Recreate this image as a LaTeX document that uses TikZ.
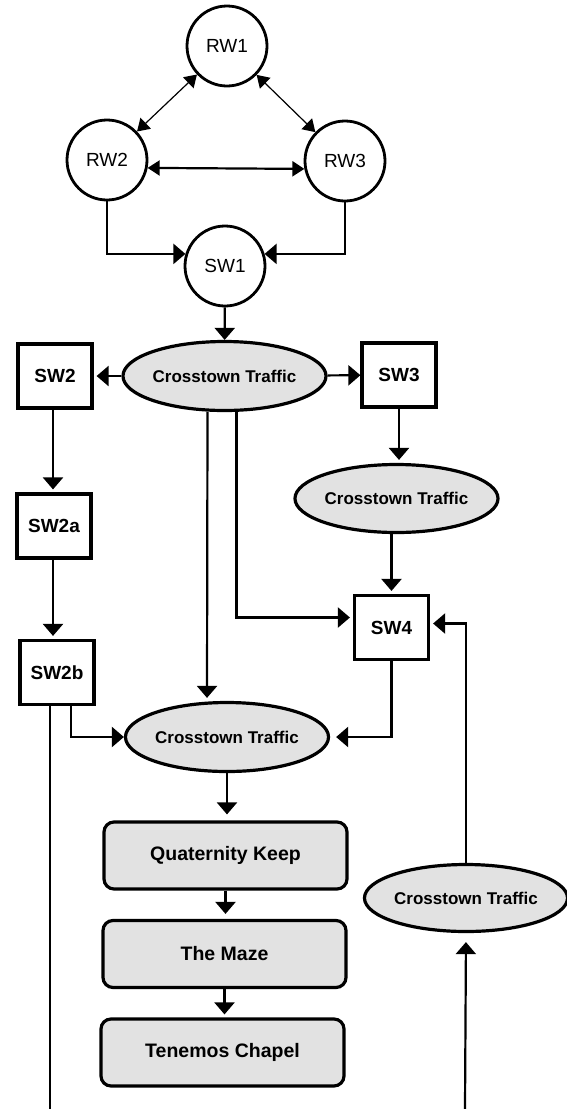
\documentclass[tikz,border=0pt]{standalone}
\usepackage{fontspec}
\setmainfont{Liberation Sans}
\usetikzlibrary{shapes.geometric,arrows.meta,calc}
\definecolor{cfill}{RGB}{226,226,226}
\begin{document}
\begin{tikzpicture}[x=1pt,y=-1pt,
  circ/.style={circle,draw,line width=2.8pt,minimum size=80pt,inner sep=0pt,font=\fontsize{19}{22}\selectfont},
  sbox/.style={rectangle,draw,line width=3.2pt,minimum width=74pt,minimum height=64pt,inner sep=0pt,font=\fontsize{19}{22}\selectfont\bfseries},
  ct/.style={ellipse,draw,fill=cfill,line width=3.2pt,inner sep=0pt,font=\fontsize{17}{20}\selectfont\bfseries},
  rbox/.style={rectangle,rounded corners=10pt,draw,fill=cfill,line width=3.2pt,minimum width=243pt,minimum height=67pt,inner sep=0pt,font=\fontsize{19.5}{22}\selectfont\bfseries},
  con/.style={line width=2.2pt,shorten >=3pt,-{Triangle[length=12pt,width=20pt]}},
  plainline/.style={line width=2.2pt},
  dblthin/.style={line width=1.2pt,{Triangle[length=12pt,width=15pt]}-{Triangle[length=12pt,width=15pt]}},
  dblthick/.style={line width=2.2pt,{Triangle[length=12pt,width=15pt]}-{Triangle[length=12pt,width=15pt]}},
]
\useasboundingbox (0,0) rectangle (566,1109);

\node[circ] (RW1) at (227,46) {RW1};
\node[circ] (RW2) at (107,160) {RW2};
\node[circ] (RW3) at (345,161) {RW3};
\node[circ] (SW1) at (225,266) {SW1};
\node[ct,minimum width=182pt,minimum height=69pt] (CT1) at (224.5,376) {Crosstown Traffic};
\node[sbox] (SW2) at (55,376) {SW2};
\node[sbox] (SW3) at (399,375) {SW3};
\node[ct,minimum width=188pt,minimum height=68pt] (CT2) at (396.5,498.5) {Crosstown Traffic};
\node[sbox] (SW2a) at (54,526) {SW2a};
\node[sbox] (SW2b) at (57,672.5) {SW2b};
\node[sbox] (SW4) at (391.5,627.5) {SW4};
\node[ct,minimum width=187pt,minimum height=69pt] (CT3) at (227,737) {Crosstown Traffic};
\node[rbox] (QK) at (225.5,855.5) {Quaternity Keep};
\node[rbox] (MZ) at (224.5,954) {The Maze};
\node[rbox] (TC) at (222.5,1052.5) {Tenemos Chapel};
\node[ct,minimum width=189pt,minimum height=67pt] (CT4) at (466,898) {Crosstown Traffic};
\coordinate (B1) at (50,1109);
\coordinate (B2) at (465,1109);

\draw[dblthin] (RW1) -- (RW2);
\draw[dblthin] (RW1) -- (RW3);
\draw[dblthick] (RW2.-11) -- (RW3.191);
\draw[con,shorten >=0pt] (RW2.south) |- (SW1.163);
\draw[con,shorten >=0pt] (RW3.south) |- (SW1.17);
\draw[con,shorten >=0pt] (SW1) -- (CT1);
\draw[con] (CT1) -- (SW2);
\draw[con,shorten >=0pt] (CT1) -- (SW3);
\draw[con] ([xshift=-2pt]SW2.south) -- ([xshift=-1pt]SW2a.north);
\draw[con] ([xshift=-1pt]SW2a.south) -- ([xshift=-4pt]SW2b.north);
\draw[con] ([xshift=-17pt]CT1.south) -- ([xshift=-20pt]CT3.north);
\draw[con] ([xshift=12pt]CT1.south) |- ([yshift=10pt]SW4.west);
\draw[con] (SW3.south) -- (SW3.south |- CT2.north);
\draw[con] (SW4.north |- CT2.south) -- (SW4.north);
\draw[con,shorten >=0pt] ([xshift=14pt]SW2b.south) |- (CT3.west);
\draw[plainline] ([xshift=-7pt]SW2b.south) -- (B1);
\draw[con,shorten >=6pt] (SW4.south) |- (CT3.east);
\draw[con,shorten >=6pt] (CT3.south) -- (CT3.south |- QK.north);
\draw[con,shorten >=5pt] (QK.south) -- (QK.south |- MZ.north);
\draw[con] (MZ.south) -- (MZ.south |- TC.north);
\draw[con] (CT4.north) |- ([yshift=4pt]SW4.east);
\draw[con,shorten >=9pt] (B2) -- (CT4.south);
\end{tikzpicture}
\end{document}
